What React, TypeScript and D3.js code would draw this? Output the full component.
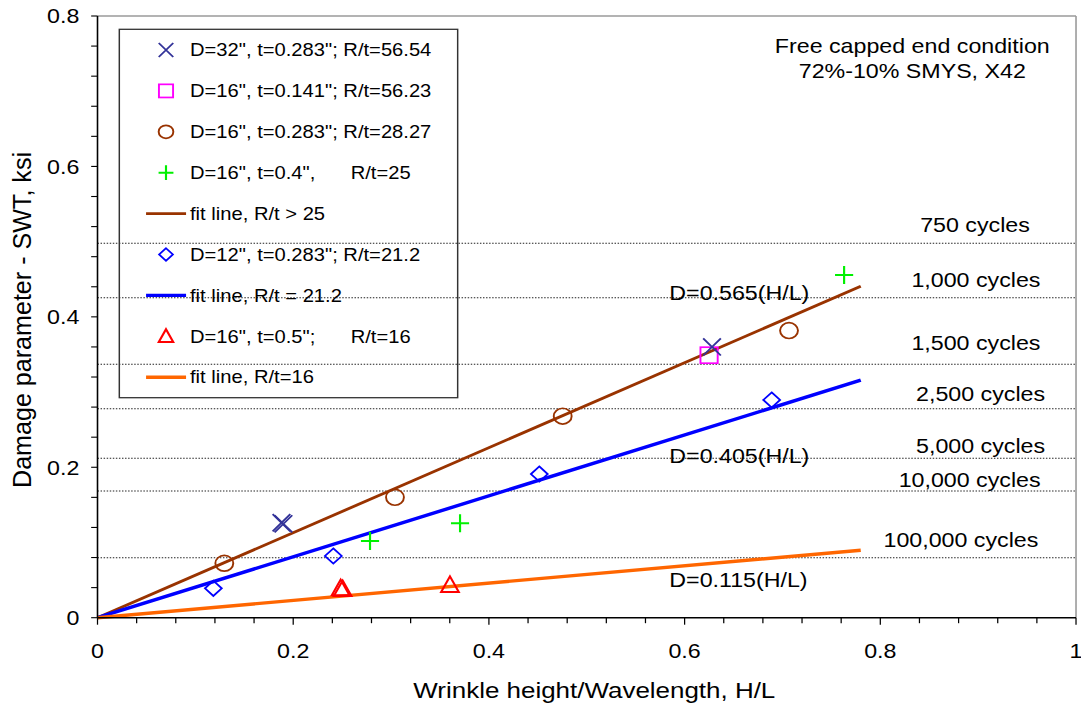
import React from "react";
import * as d3 from "d3";

// ---------- data ----------
const xTicks = [0, 0.2, 0.4, 0.6, 0.8, 1];
const yTicks = [0, 0.2, 0.4, 0.6, 0.8];

const ptsD32: [number, number][] = [[0.188, 0.1262], [0.190, 0.1248], [0.628, 0.360]];
const ptsD16t141: [number, number][] = [[0.625, 0.349]];
const ptsD16t283: [number, number][] = [[0.1296, 0.0723], [0.304, 0.160], [0.4754, 0.268], [0.7067, 0.3817]];
const ptsD16t4: [number, number][] = [[0.2785, 0.102], [0.3705, 0.1255], [0.763, 0.4557]];
const ptsD12: [number, number][] = [[0.1184, 0.039], [0.241, 0.082], [0.4515, 0.191], [0.689, 0.2895]];
const ptsD16t5: [number, number][] = [[0.2485, 0.0392], [0.2505, 0.0380], [0.3602, 0.0435]];

const fitSlopes = [0.565, 0.405, 0.115];
const fitLabels = ["D=0.565(H/L)", "D=0.405(H/L)", "D=0.115(H/L)"];
const fitXMax = 0.78;

const cycleLevels = [0.498, 0.4255, 0.3369, 0.2779, 0.2119, 0.1685, 0.0798];
const cycleLabels = ["750 cycles", "1,000 cycles", "1,500 cycles", "2,500 cycles", "5,000 cycles", "10,000 cycles", "100,000 cycles"];

const noteLines = ["Free capped end condition", "72%-10% SMYS, X42"];

const legendLabels = [
  'D=32", t=0.283"; R/t=56.54',
  'D=16", t=0.141"; R/t=56.23',
  'D=16", t=0.283"; R/t=28.27',
  'D=16", t=0.4",',
  "fit line, R/t > 25",
  'D=12", t=0.283"; R/t=21.2',
  "fit line, R/t = 21.2",
  'D=16", t=0.5";',
  "fit line, R/t=16",
];
const legendExtra = ["", "", "", "R/t=25", "", "", "", "R/t=16", ""];

// ---------- styles / layout ----------
const S = 1081 / 954; // horizontal stretch of the whole picture
const FONT = "'Liberation Sans', Arial, Helvetica, sans-serif";
const C = {
  x: "#333399",
  square: "#FF00FF",
  circle: "#993300",
  plus: "#00F000",
  diamond: "#0000FF",
  triangle: "#FF0000",
};
const fitColors = ["#993300", "#0000FF", "#FF6600"];
const fitWidths = [2.8, 3.4, 3.4];
const legendKinds = ["x", "square", "circle", "plus", "line0", "diamond", "line1", "triangle", "line2"];
const cycleDx = [0, 0.8, 0.8, 4.9, 4.9, -4.8, -12.5];
const cycleDy = [-11, -10.4, -14, -8, -5.6, -4.3, -11];
const fitLabelDy = [300, 463.3, 586.7];

const x = d3.scaleLinear().domain([0, 1]).range([86.05, 949.6]);
const y = d3.scaleLinear().domain([0, 0.8]).range([617.7, 16]);

function marker(kind: string, cx: number, cy: number, k: number, key: string) {
  const sw = 1.7;
  switch (kind) {
    case "x":
      return (
        <path key={key} d={`M${cx - 7.8 * k},${cy - 8.6 * k}L${cx + 7.8 * k},${cy + 8.6 * k}M${cx + 7.8 * k},${cy - 8.6 * k}L${cx - 7.8 * k},${cy + 8.6 * k}`}
          stroke={C.x} strokeWidth={sw} fill="none" />
      );
    case "square":
      return <rect key={key} x={cx - 7.6 * k} y={cy - 8 * k} width={15.2 * k} height={16 * k} stroke={C.square} strokeWidth={sw} fill="none" />;
    case "circle":
      return <circle key={key} cx={cx} cy={cy} r={7.9 * k} stroke={C.circle} strokeWidth={sw} fill="none" />;
    case "plus":
      return (
        <path key={key} d={`M${cx - 8 * k},${cy}L${cx + 8 * k},${cy}M${cx},${cy - 9 * k}L${cx},${cy + 9 * k}`}
          stroke={C.plus} strokeWidth={1.9} fill="none" />
      );
    case "diamond":
      return (
        <path key={key} d={`M${cx},${cy - 7.6 * k}L${cx + 7.4 * k},${cy}L${cx},${cy + 7.6 * k}L${cx - 7.4 * k},${cy}Z`}
          stroke={C.diamond} strokeWidth={sw} fill="none" />
      );
    case "triangle":
      return (
        <path key={key} d={`M${cx},${cy - 8.6 * k}L${cx + 7.8 * k},${cy + 7 * k}L${cx - 7.8 * k},${cy + 7 * k}Z`}
          stroke={C.triangle} strokeWidth={1.9} fill="none" />
      );
    default:
      return null;
  }
}

export default function App() {
  const xMinor = d3.range(0, 1.0001, 0.04);
  const yMinor = d3.range(0, 0.8001, 0.04);
  const fitLine = (m: number) =>
    d3.line<number>().x((d) => x(d)).y((d) => y(m * d))([0, fitXMax]) || "";

  const series: [string, [number, number][]][] = [
    ["circle", ptsD16t283],
    ["diamond", ptsD12],
    ["plus", ptsD16t4],
    ["triangle", ptsD16t5],
    ["square", ptsD16t141],
    ["x", ptsD32],
  ];

  const lgLeft = 105.3, lgTop = 29.3, lgRight = 403.9, lgBottom = 397.7;
  const lgMarkX = 146.5, lgTextX = 167.7, lgExtraX = 309.5;
  const rowY = (i: number) => 50 + i * 40.9;

  return (
    <svg width={1081} height={709} style={{ position: "absolute", left: 0, top: 0, background: "#fff" }}
      fontFamily={FONT}>
      <rect x={0} y={0} width={1081} height={709} fill="#fff" />
      <g transform={`scale(${S},1)`}>
        {/* plot frame top/right */}
        <line x1={x(0)} x2={x(1)} y1={y(0.8)} y2={y(0.8)} stroke="#9a9a9a" strokeWidth={1.6} />
        <line x1={x(1)} x2={x(1)} y1={y(0.8)} y2={y(0)} stroke="#9a9a9a" strokeWidth={1.4} />

        {/* cycle levels */}
        {cycleLevels.map((v, i) => (
          <line key={"cl" + i} x1={x(0)} x2={x(1)} y1={y(v)} y2={y(v)} stroke="#222" strokeWidth={1}
            strokeDasharray="1.3,1.4" />
        ))}
        {cycleLabels.map((t, i) => (
          <text key={"ct" + i} x={860.5 + cycleDx[i]} y={y(cycleLevels[i]) + cycleDy[i]} fontSize={20.5}
            textAnchor="middle" fill="#000">{t}</text>
        ))}

        {/* note */}
        {noteLines.map((t, i) => (
          <text key={"n" + i} x={805.1} y={52.7 + i * 25.6} fontSize={20.5} textAnchor="middle">{t}</text>
        ))}

        {/* fit lines */}
        {fitSlopes.map((m, i) => (
          <path key={"f" + i} d={fitLine(m)} stroke={fitColors[i]} strokeWidth={fitWidths[i]} fill="none" />
        ))}
        {fitLabels.map((t, i) => (
          <text key={"fl" + i} x={590.7} y={fitLabelDy[i]} fontSize={20.5}>{t}</text>
        ))}

        {/* markers */}
        {series.map(([kind, pts]) =>
          pts.map((p, j) => marker(kind, x(p[0]), y(p[1]), 1, kind + j))
        )}

        {/* legend */}
        <rect x={lgLeft} y={lgTop} width={lgRight - lgLeft} height={lgBottom - lgTop} fill="none"
          stroke="#333" strokeWidth={1.3} />
        {legendLabels.map((t, i) => {
          const kind = legendKinds[i];
          const cy = rowY(i);
          return (
            <g key={"lg" + i}>
              {kind.startsWith("line") ? (
                <line x1={128.9} x2={164.2} y1={cy} y2={cy} stroke={fitColors[+kind.slice(4)]}
                  strokeWidth={fitWidths[+kind.slice(4)]} />
              ) : (
                marker(kind, lgMarkX, cy, 0.82, "lm" + i)
              )}
              <text x={lgTextX} y={cy + 6.3} fontSize={17.8}>{t}</text>
              {legendExtra[i] ? <text x={lgExtraX} y={cy + 6.3} fontSize={17.8}>{legendExtra[i]}</text> : null}
            </g>
          );
        })}

        {/* axes */}
        <line x1={x(0)} x2={x(1)} y1={y(0)} y2={y(0)} stroke="#000" strokeWidth={1.5} />
        <line x1={x(0)} x2={x(0)} y1={y(0)} y2={y(0.8)} stroke="#000" strokeWidth={1.4} />
        {xMinor.map((v, i) => (
          <line key={"xm" + i} x1={x(v)} x2={x(v)} y1={y(0)} y2={y(0) + (i % 5 === 0 ? 7 : 5.5)} stroke="#000" strokeWidth={1.1} />
        ))}
        {yMinor.map((v, i) => (
          <line key={"ym" + i} x1={x(0)} x2={x(0) - 5.6} y1={y(v)} y2={y(v)} stroke="#000" strokeWidth={1.1} />
        ))}
        {xTicks.map((v) => (
          <text key={"xt" + v} x={x(v)} y={658.3} fontSize={20.5} textAnchor="middle">{d3.format("~g")(v)}</text>
        ))}
        {yTicks.map((v) => (
          <text key={"yt" + v} x={70} y={y(v) + 7.3} fontSize={20.5} textAnchor="end">{d3.format("~g")(v)}</text>
        ))}

        {/* axis titles */}
        <text x={524.5} y={698.3} fontSize={22.9} textAnchor="middle">Wrinkle height/Wavelength, H/L</text>
        <text transform={`translate(27,320) rotate(-90)`} fontSize={23.5} textAnchor="middle"
          textLength={336} lengthAdjust="spacingAndGlyphs">
          Damage parameter - SWT, ksi
        </text>
      </g>
    </svg>
  );
}
